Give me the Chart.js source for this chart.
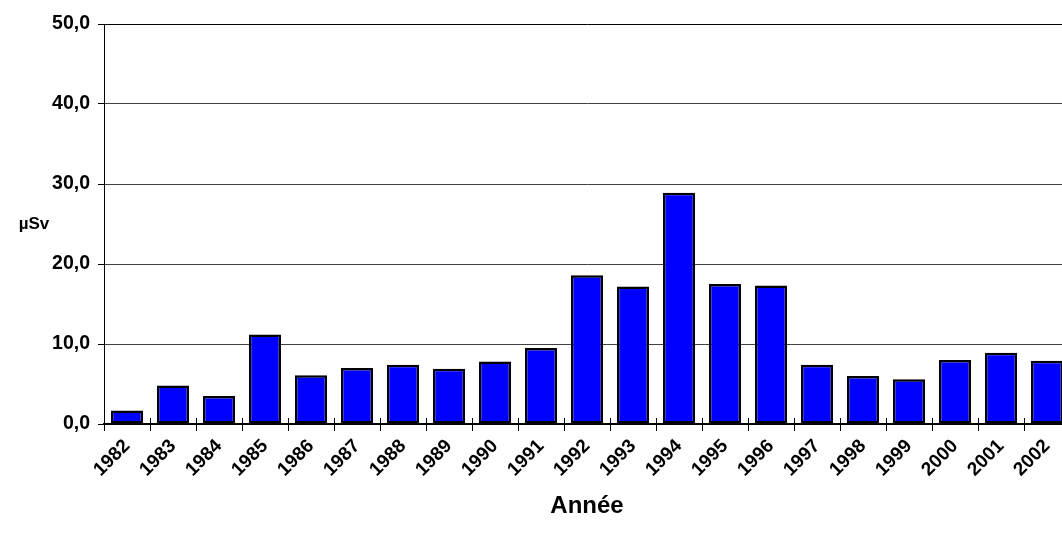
<!DOCTYPE html>
<html>
<head>
<meta charset="utf-8">
<script src="https://cdn.jsdelivr.net/npm/chart.js@4"></script>
<style>
  html, body { margin: 0; padding: 0; background: #fff; overflow: hidden; }
  #wrap { width: 1070px; height: 540px; }
</style>
</head>
<body>
<div id="wrap"><canvas id="c" width="1070" height="540"></canvas></div>
<script>
// Annual dose per year (µSv)
const years = ['1982','1983','1984','1985','1986','1987','1988','1989','1990','1991',
               '1992','1993','1994','1995','1996','1997','1998','1999','2000','2001','2002'];
const doses = [1.7, 4.8, 3.5, 11.2, 6.1, 7.0, 7.4, 6.9, 7.8, 9.5,
               18.6, 17.2, 28.9, 17.5, 17.3, 7.4, 6.0, 5.6, 8.0, 8.9, 7.9];
const yTickValues = [0, 10, 20, 30, 40, 50];
const yTickLabels = ['0,0', '10,0', '20,0', '30,0', '40,0', '50,0'];
const yTitle = 'µSv';
const xTitle = 'Année';

const FONT = '"Liberation Sans", Arial, sans-serif';

// Short tick marks on the category boundaries, drawn inside the plot above the axis
const innerTicks = {
  id: 'innerTicks',
  afterDraw(chart) {
    const x = chart.scales.x, y = chart.scales.y;
    const ctx = chart.ctx;
    const base = y.getPixelForValue(0);
    ctx.save();
    ctx.strokeStyle = '#000';
    ctx.lineWidth = 1;
    ctx.beginPath();
    for (let i = 0; i <= years.length; i++) {
      const px = Math.round(x.getPixelForValue(i - 0.5)) + 0.5;
      ctx.moveTo(px, base);
      ctx.lineTo(px, base - 6);
    }
    ctx.stroke();
    ctx.restore();
  }
};

// Horizontal unit label left of the value axis
const unitLabel = {
  id: 'unitLabel',
  afterDraw(chart) {
    const a = chart.chartArea;
    const ctx = chart.ctx;
    ctx.save();
    ctx.font = 'bold 17px ' + FONT;
    ctx.fillStyle = '#000';
    ctx.textAlign = 'center';
    ctx.textBaseline = 'middle';
    ctx.fillText(yTitle, a.left - 70, (a.top + a.bottom) / 2);
    ctx.restore();
  }
};

new Chart(document.getElementById('c'), {
  type: 'bar',
  data: {
    labels: years,
    datasets: [{
      data: doses,
      backgroundColor: '#0000ff',
      borderColor: '#000',
      borderWidth: 2.5,
      borderSkipped: false,
      barPercentage: 0.7,
      categoryPercentage: 1.0
    }]
  },
  options: {
    responsive: false,
    animation: false,
    layout: { padding: { top: 24, left: 0, right: 0, bottom: 0 } },
    plugins: { legend: { display: false }, tooltip: { enabled: false } },
    scales: {
      x: {
        offset: true,
        grid: {
          offset: true,
          drawOnChartArea: false,
          drawTicks: true,
          tickLength: 7,
          tickColor: '#000',
          color: '#000'
        },
        border: { color: '#000', width: 2 },
        ticks: {
          autoSkip: false,
          maxRotation: 45,
          minRotation: 45,
          padding: 4,
          color: '#000',
          font: { family: FONT, size: 19, weight: 'bold' }
        },
        title: {
          display: true,
          text: xTitle,
          color: '#000',
          padding: { top: 0, bottom: 19 },
          font: { family: FONT, size: 24, weight: 'bold' }
        },
        afterFit(scale) { scale.height = 116; }
      },
      y: {
        min: 0,
        max: 50,
        afterBuildTicks(scale) { scale.ticks = yTickValues.map(v => ({ value: v })); },
        grid: {
          color: ctx => (ctx.tick && ctx.tick.value === 50) ? '#000' : '#404040',
          lineWidth: 1,
          tickLength: 6,
          tickColor: '#000'
        },
        border: { color: '#000', width: 1 },
        ticks: {
          padding: 8,
          color: '#000',
          font: { family: FONT, size: 19.5, weight: 'bold' },
          callback: (v, i) => yTickLabels[i]
        },
        afterFit(scale) { scale.width = 104; }
      }
    }
  },
  plugins: [innerTicks, unitLabel]
});
</script>
</body>
</html>
